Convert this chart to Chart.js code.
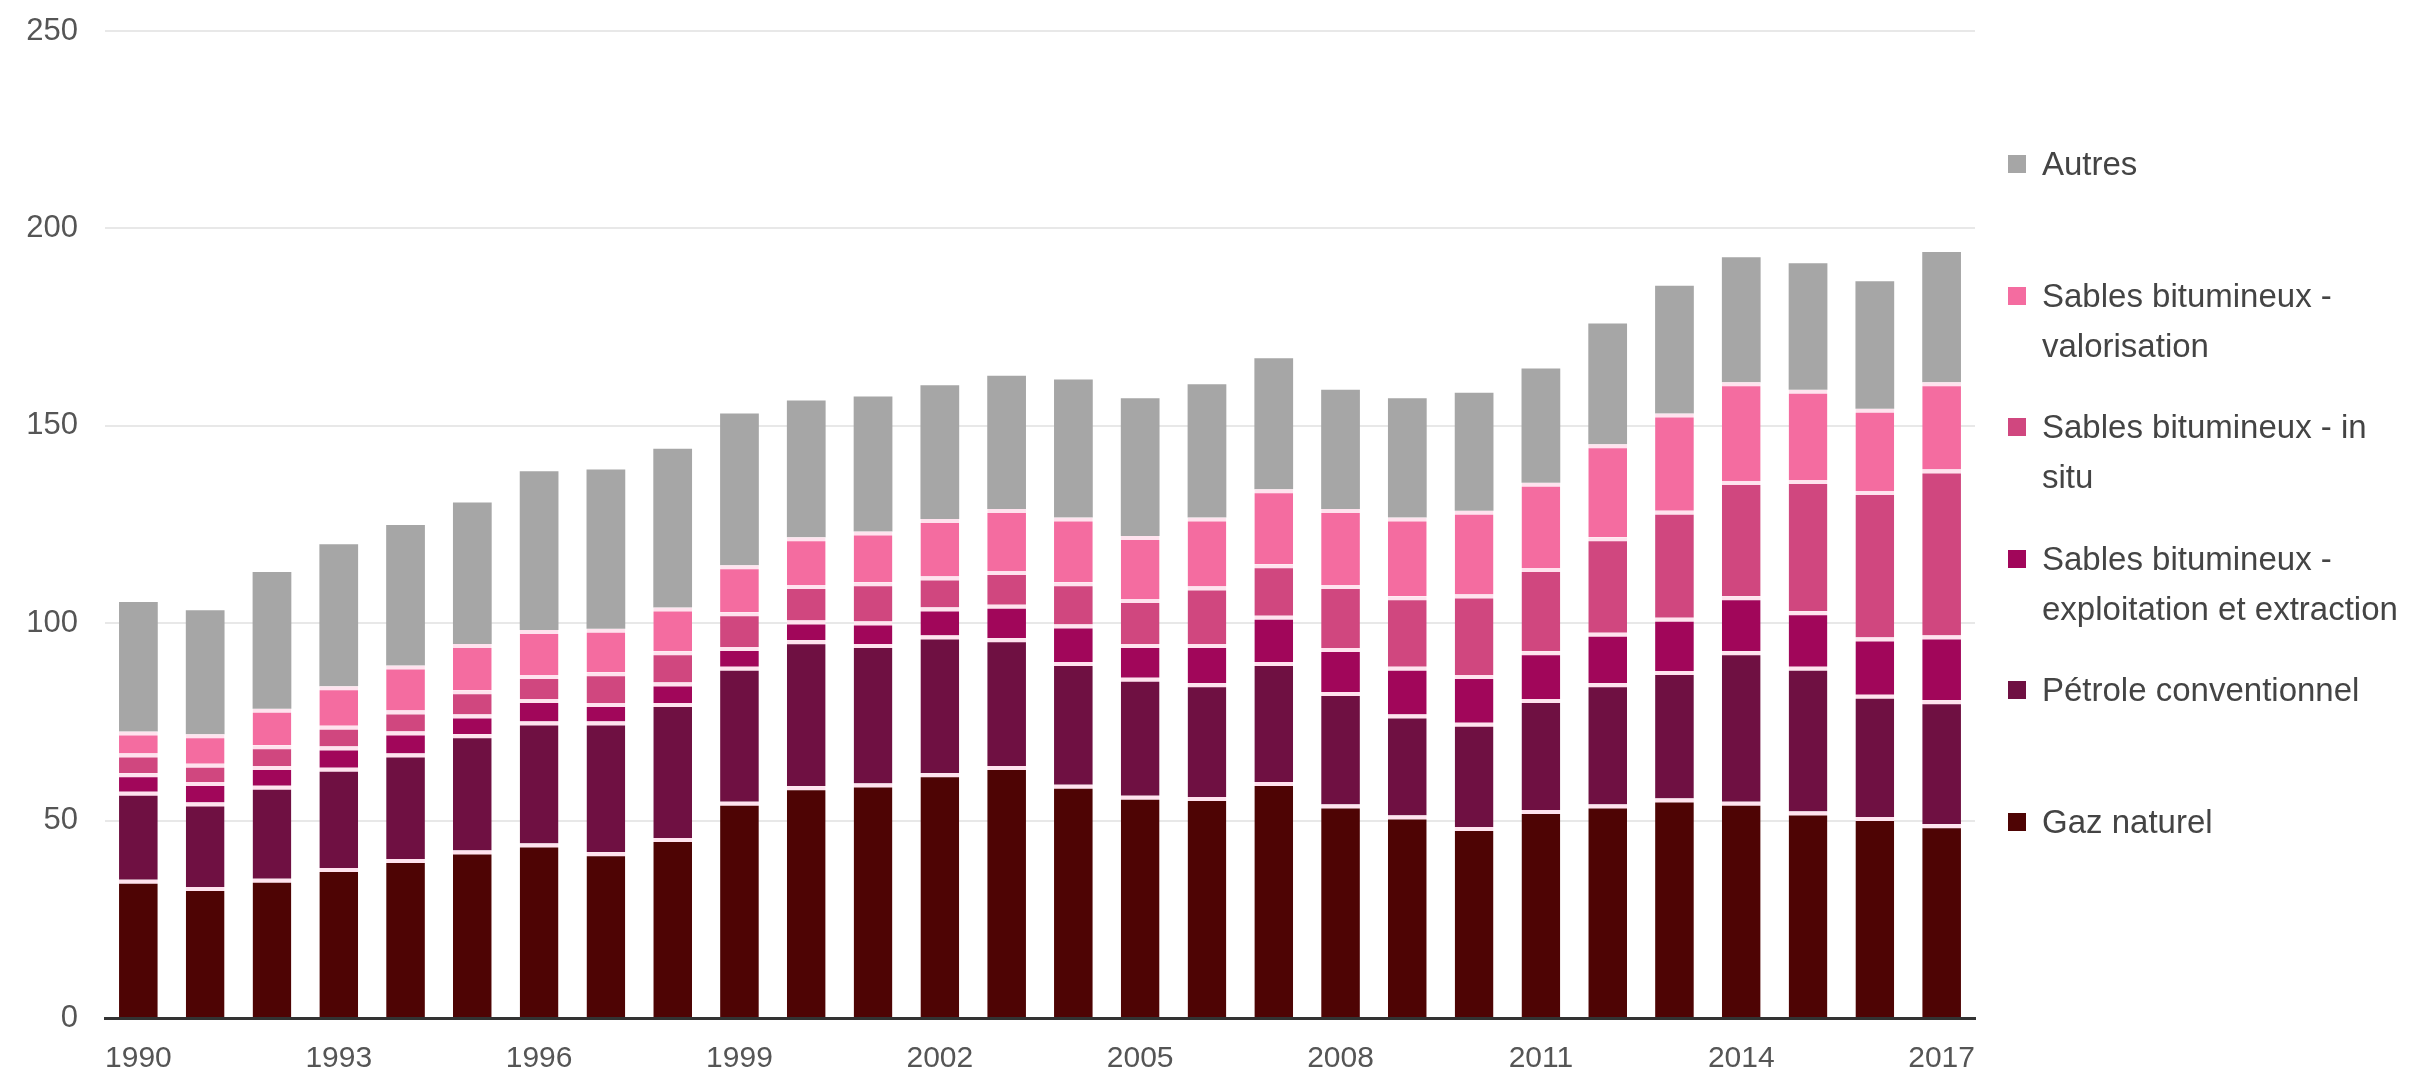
<!DOCTYPE html>
<html lang="fr">
<head>
<meta charset="utf-8">
<title>Production par source</title>
<script src="https://cdn.jsdelivr.net/npm/chart.js@4.4.1/dist/chart.umd.min.js"></script>
<style>
  html, body {
    margin: 0;
    padding: 0;
    background: #ffffff;
  }
  .wrap {
    position: relative;
    width: 2410px;
    height: 1070px;
  }
  #chart {
    position: absolute;
    left: 0;
    top: 0;
  }
  .legend-item {
    position: absolute;
    left: 2008px;
    font-family: "Liberation Sans", Arial, sans-serif;
    font-size: 33px;
    line-height: 50px;
    color: #444444;
    white-space: nowrap;
  }
  .legend-box {
    position: absolute;
    left: 0;
    top: 16px;
    width: 18px;
    height: 18px;
  }
  .legend-text {
    margin-left: 34px;
  }
</style>
</head>
<body>
<div class="wrap">
  <canvas id="chart" width="2410" height="1070"></canvas>
  <div id="legend"></div>
</div>

<script>
  // years on the x axis
  const years = [
    1990, 1991, 1992, 1993, 1994, 1995, 1996, 1997, 1998, 1999,
    2000, 2001, 2002, 2003, 2004, 2005, 2006, 2007, 2008, 2009,
    2010, 2011, 2012, 2013, 2014, 2015, 2016, 2017,
  ];

  // stacked series, bottom to top
  const gazNaturel = [
    35, 33.2, 35.3, 38, 40.3, 42.4, 44.2, 42, 45.6, 54.8,
    58.7, 59.4, 62, 63.8, 59.1, 56.3, 56, 59.8, 54.1, 51.3,
    48.4, 52.7, 54.1, 55.6, 54.8, 52.3, 50.9, 49.1,
  ];
  const petroleConventionnel = [
    22.3, 21.4, 23.5, 25.4, 26.7, 29.5, 30.9, 33.1, 34.2, 34.2,
    37, 35.3, 34.9, 32.4, 31.1, 29.9, 28.8, 30.4, 28.5, 25.6,
    26.4, 28.1, 30.7, 32.3, 38.1, 36.7, 31, 31.4,
  ];
  const sablesExploitation = [
    4.7, 5.2, 5, 5.4, 5.6, 5, 5.7, 4.7, 5.2, 5,
    5, 5.7, 7.1, 8.5, 9.5, 8.5, 9.9, 11.7, 11.1, 12.1,
    12.1, 12.1, 12.8, 13.5, 13.9, 14, 14.5, 16.4,
  ];
  const sablesInSitu = [
    5, 4.6, 5.3, 5.2, 5.3, 6.1, 6.1, 7.8, 7.9, 8.8,
    9, 10, 7.8, 8.5, 10.7, 11.4, 14.6, 13, 16, 17.8,
    20.4, 21.1, 24.2, 27.1, 29.2, 33.3, 37.1, 42,
  ];
  const sablesValorisation = [
    5.6, 7.5, 9.2, 10, 11.4, 11.7, 11.4, 11, 11.1, 11.9,
    12.1, 12.8, 14.6, 15.7, 16.4, 16, 17.5, 19, 19.2, 20,
    21.2, 21.6, 23.5, 24.6, 25, 22.8, 20.8, 22.1,
  ];
  const autres = [
    32.8, 31.4, 34.7, 36, 35.6, 35.9, 40.2, 40.3, 40.2, 38.4,
    34.6, 34.2, 33.9, 33.8, 34.9, 34.9, 33.7, 33.2, 30.2, 30.2,
    29.9, 28.9, 30.6, 32.4, 31.7, 32.1, 32.3, 33,
  ];

  // legend lines for each series (same order as the stack)
  const seriesLabels = [
    ["Gaz naturel"],
    ["Pétrole conventionnel"],
    ["Sables bitumineux -", "exploitation et extraction"],
    ["Sables bitumineux - in", "situ"],
    ["Sables bitumineux -", "valorisation"],
    ["Autres"],
  ];

  const yTicks = [0, 50, 100, 150, 200, 250];

  const seriesData = [
    gazNaturel,
    petroleConventionnel,
    sablesExploitation,
    sablesInSitu,
    sablesValorisation,
    autres,
  ];
  const seriesColors = ["#4e0404", "#6f1042", "#a1065a", "#d0477f", "#f46ca0", "#a6a6a6"];

  const FONT = '"Liberation Sans", Arial, sans-serif';
  const lastSeries = seriesData.length - 1;

  // each segment carries a light line on its top edge, except the topmost one
  const datasets = seriesData.map((values, i) => ({
    label: seriesLabels[i].join(" "),
    data: values,
    backgroundColor: seriesColors[i],
    borderColor: "#ffe2ee",
    borderWidth: { top: i === lastSeries ? 0 : 4, left: 0, right: 0, bottom: 0 },
    borderSkipped: false,
    barPercentage: 0.58,
    categoryPercentage: 1.0,
  }));

  const ctx = document.getElementById("chart").getContext("2d");

  new Chart(ctx, {
    type: "bar",
    data: {
      labels: years.map(String),
      datasets: datasets,
    },
    options: {
      responsive: false,
      animation: false,
      layout: {
        padding: { top: 31, right: 435, bottom: 0, left: 0 },
      },
      plugins: {
        legend: { display: false },
        tooltip: { enabled: false },
      },
      scales: {
        x: {
          stacked: true,
          grid: { display: false, drawTicks: false },
          border: { display: true, color: "#333333", width: 3 },
          ticks: {
            autoSkip: false,
            maxRotation: 0,
            minRotation: 0,
            padding: 23,
            color: "#555555",
            font: { family: FONT, size: 30 },
            callback: (value, index) => (index % 3 === 0 ? years[index] : ""),
          },
          afterFit: (scale) => {
            scale.height = 52;
          },
        },
        y: {
          stacked: true,
          min: 0,
          max: 250,
          afterBuildTicks: (scale) => {
            scale.ticks = yTicks.map((v) => ({ value: v }));
          },
          grid: {
            drawTicks: false,
            lineWidth: 2,
            color: (c) => (c.tick && c.tick.value === 0 ? "#333333" : "#e8e8e8"),
          },
          border: { display: false },
          ticks: {
            padding: 27,
            color: "#555555",
            font: { family: FONT, size: 31 },
          },
          afterFit: (scale) => {
            // fixed axis column, no extra room for the end labels
            scale.width = 105;
            scale.paddingTop = 0;
            scale.paddingBottom = 0;
          },
        },
      },
    },
  });

  // legend on the right, top item = top of the stack
  const legend = document.getElementById("legend");
  const order = [5, 4, 3, 2, 1, 0];
  order.forEach((seriesIndex, slot) => {
    const item = document.createElement("div");
    item.className = "legend-item";
    item.style.top = 139 + slot * 131.6 + "px";

    const box = document.createElement("span");
    box.className = "legend-box";
    box.style.background = seriesColors[seriesIndex];
    item.appendChild(box);

    const text = document.createElement("div");
    text.className = "legend-text";
    seriesLabels[seriesIndex].forEach((line) => {
      const row = document.createElement("div");
      row.textContent = line;
      text.appendChild(row);
    });
    item.appendChild(text);

    legend.appendChild(item);
  });
</script>
</body>
</html>
